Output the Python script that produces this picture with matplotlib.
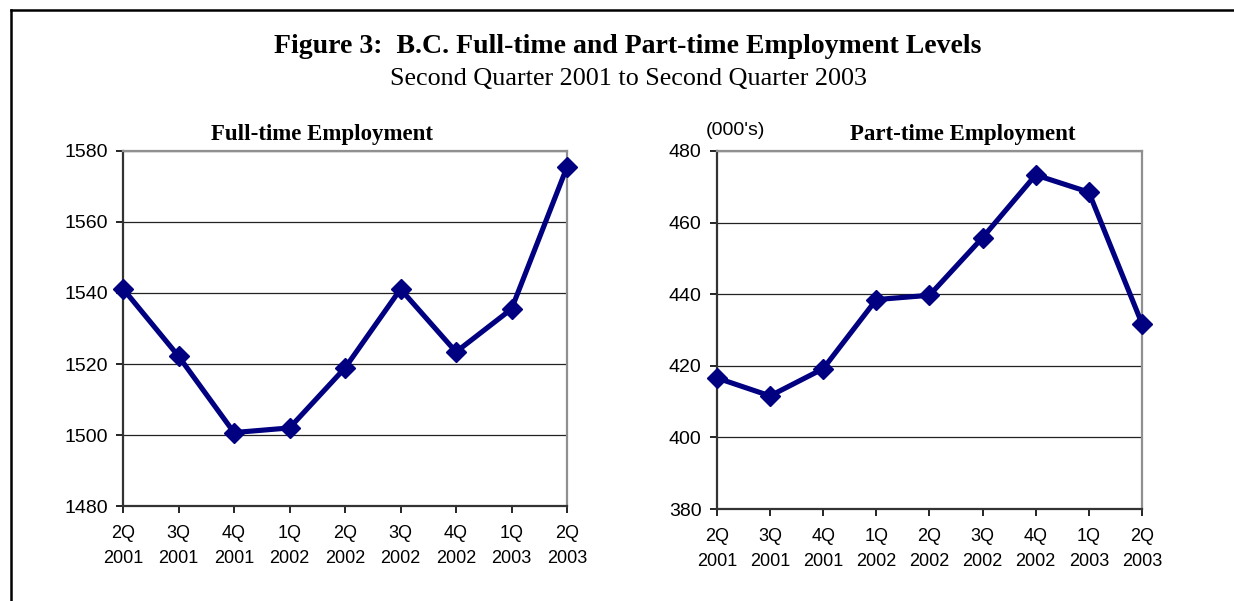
import matplotlib
matplotlib.use("Agg")
from matplotlib import pyplot as plt
from matplotlib.lines import Line2D

# quarterly labels and employment levels (thousands)
quarters = ["2Q\n2001", "3Q\n2001", "4Q\n2001", "1Q\n2002", "2Q\n2002",
            "3Q\n2002", "4Q\n2002", "1Q\n2003", "2Q\n2003"]
full_time = [1541.2, 1522.2, 1500.7, 1502.0, 1518.9, 1541.1, 1523.4, 1535.5, 1575.5]
part_time = [416.6, 411.6, 419.2, 438.5, 439.7, 455.8, 473.3, 468.5, 431.8]

ft_ticks = [1480, 1500, 1520, 1540, 1560, 1580]
pt_ticks = [380, 400, 420, 440, 460, 480]

navy = "#000080"
serif = "Liberation Serif"
sans = "Liberation Sans"

fig = plt.figure(figsize=(12.34, 6.01), dpi=100)


def draw_panel(ax, values, ticks):
    x = list(range(len(values)))
    ax.plot(x, values, color=navy, linewidth=3.7, marker="D", markersize=10,
            solid_joinstyle="miter", zorder=3, clip_on=False)
    ax.set_xlim(0, len(values) - 1)
    ax.set_ylim(ticks[0], ticks[-1])
    ax.set_yticks(ticks)
    ax.set_xticks(x)
    ax.set_xticklabels(quarters, fontsize=13, family=sans, linespacing=1.6)
    ax.tick_params(axis="y", labelsize=14, length=5, width=1.2, pad=6)
    for lab in ax.get_yticklabels():
        lab.set_family(sans)
    ax.tick_params(axis="x", length=5, width=1.2, pad=9)
    ax.grid(axis="y", color="#222222", linewidth=0.9)
    ax.set_axisbelow(True)
    ax.spines["left"].set_color("#333333")
    ax.spines["bottom"].set_color("#333333")
    ax.spines["top"].set_color("#909090")
    ax.spines["right"].set_color("#909090")
    for s in ax.spines.values():
        s.set_linewidth(1.6)


ax1 = fig.add_axes([0.0997, 0.158, 0.3598, 0.5908])
draw_panel(ax1, full_time, ft_ticks)
fig.text(0.2613, 0.777, "Full-time Employment", fontsize=16.5, family=serif,
         fontweight="bold", ha="center", va="center")

ax2 = fig.add_axes([0.581, 0.153, 0.3444, 0.5958])
draw_panel(ax2, part_time, pt_ticks)
fig.text(0.7804, 0.777, "Part-time Employment", fontsize=16.5, family=serif,
         fontweight="bold", ha="center", va="center")
fig.text(0.572, 0.783, "(000's)", fontsize=14, family=sans, ha="left", va="center")

fig.text(0.509, 0.922, "Figure 3:  B.C. Full-time and Part-time Employment Levels",
         fontsize=20, family=serif, fontweight="bold", ha="center", va="center")
fig.text(0.509, 0.869, "Second Quarter 2001 to Second Quarter 2003",
         fontsize=18.8, family=serif, ha="center", va="center")

# page frame: top and left rules
fig.add_artist(Line2D([0.0089, 1.0], [0.9834, 0.9834], transform=fig.transFigure,
                      color="black", linewidth=1.8))
fig.add_artist(Line2D([0.0089, 0.0089], [0.0, 0.9834], transform=fig.transFigure,
                      color="black", linewidth=1.8))

fig.savefig("out.png", dpi=100)
